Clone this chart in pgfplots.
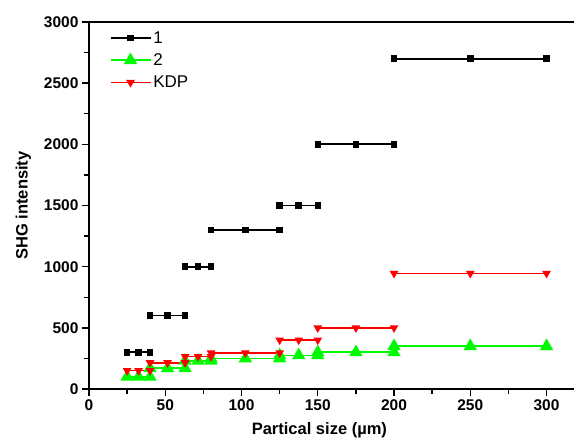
\documentclass[border=0pt]{standalone}
\usepackage{fontspec}
\setmainfont{Liberation Sans}
\usepackage{pgfplots}
\pgfplotsset{compat=1.18}
\definecolor{sgreen}{RGB}{0,250,0}
\definecolor{sred}{RGB}{255,0,0}
\begin{document}
\begin{tikzpicture}
\begin{axis}[
  name=ax,
  scale only axis,
  width=485pt, height=367pt,
  xmin=0, xmax=318, ymin=0, ymax=3000,
  axis x line*=bottom, axis y line*=left,
  axis line style={line width=1.5pt, -},
  xtick={0,50,...,300}, ytick={0,500,...,3000},
  minor x tick num=1, minor y tick num=1,
  tick align=outside,
  major tick length=7pt, minor tick length=4.5pt,
  tick style={line width=1.4pt, black},
  unbounded coords=jump,
  /pgf/number format/assume math mode=true,
  /pgf/number format/1000 sep={},
  ticklabel style={font=\fontsize{15.5}{17}\selectfont\bfseries},
  xlabel={Partical size (µm)},
  ylabel={SHG intensity},
  label style={font=\fontsize{16.5}{18}\selectfont\bfseries},
  xlabel style={at={(ticklabel cs:0.475)}, yshift=-5pt},
  ylabel style={yshift=6pt},
  legend style={at={(0.036,0.986)}, anchor=north west, draw=none, fill=none,
    font=\fontsize{17}{19}\selectfont, row sep=5pt},
  legend cell align=left,
  legend image code/.code={%
    \draw[mark repeat=2, mark phase=2, #1]
      plot coordinates {(0pt,0pt) (20pt,0pt) (40pt,0pt)};},
]
\draw[line width=1.5pt] (rel axis cs:0,1) -- (rel axis cs:1,1);
\addplot[black, line width=1.7pt, mark=square*, mark size=2.4pt] coordinates {
  (25,300) (32.5,300) (40,300) (40,nan)
  (40,600) (51.5,600) (63,600) (63,nan)
  (63,1000) (71.5,1000) (80,1000) (80,nan)
  (80,1300) (102.5,1300) (125,1300) (125,nan)
  (125,1500) (137.5,1500) (150,1500) (150,nan)
  (150,2000) (175,2000) (200,2000) (200,nan)
  (200,2700) (250,2700) (300,2700)
};
\addlegendentry{1}
\addplot[sgreen, line width=1.7pt, mark=triangle*, mark size=6pt] coordinates {
  (25,100) (32.5,100) (40,100) (40,nan)
  (40,170) (51.5,170) (63,170) (63,nan)
  (63,230) (71.5,230) (80,230) (80,nan)
  (80,250) (102.5,250) (125,250) (125,nan)
  (125,275) (137.5,275) (150,275) (150,nan)
  (150,300) (175,300) (200,300) (200,nan)
  (200,350) (250,350) (300,350)
};
\addlegendentry{2}
\addplot[sred, line width=1.7pt, mark=triangle*, mark size=3.4pt, mark options={rotate=180}] coordinates {
  (25,150) (32.5,150) (40,150) (40,nan)
  (40,215) (51.5,215) (63,215) (63,nan)
  (63,265) (71.5,265) (80,265) (80,nan)
  (80,295) (102.5,295) (125,295) (125,nan)
  (125,400) (137.5,400) (150,400) (150,nan)
  (150,500) (175,500) (200,500) (200,nan)
  (200,945) (250,945) (300,945)
};
\addlegendentry{KDP}
\end{axis}
\pgfresetboundingbox
\useasboundingbox (ax.south west) ++(-89pt,-53pt) rectangle ++(574pt,442pt);
\end{tikzpicture}
\end{document}
